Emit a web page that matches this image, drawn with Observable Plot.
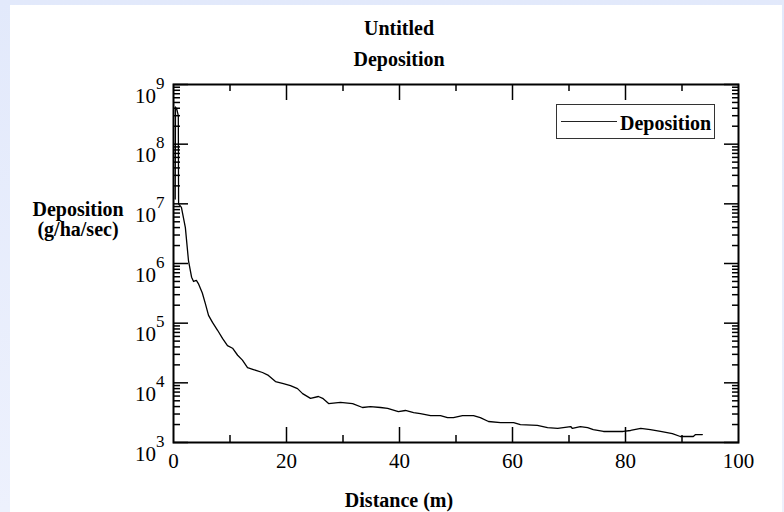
<!DOCTYPE html>
<html><head><meta charset="utf-8">
<script src="https://cdn.jsdelivr.net/npm/d3@7"></script>
<script src="https://cdn.jsdelivr.net/npm/@observablehq/plot@0.6"></script>
<style>
html,body{margin:0;padding:0;}
body{width:784px;height:512px;overflow:hidden;background:linear-gradient(180deg,#e2e9fb 0%,#edf1fd 100%);}
#wrap{position:relative;width:784px;height:512px;}
#panel{position:absolute;left:10px;top:5px;width:772px;height:507px;background:#fff;}
#chart{position:absolute;left:0;top:0;}
.t{position:absolute;font-family:"Liberation Serif","Times New Roman",serif;font-weight:bold;font-size:20px;line-height:20px;color:#000;white-space:nowrap;}
.c{transform:translateX(-50%);}
#legend{position:absolute;left:556px;top:104px;width:157px;height:33px;border:1.5px solid #333;background:#fff;}
#legend .ln{position:absolute;left:4px;top:16px;width:56px;height:0;border-top:1.5px solid #222;}
#legend .t{left:63px;top:8px;}
</style></head>
<body>
<div id="wrap">
  <div id="panel"></div>
  <div id="chart"></div>
  <div class="t c" style="left:399px;top:18px;">Untitled</div>
  <div class="t c" style="left:399px;top:49px;">Deposition</div>
  <div class="t c" style="left:78px;top:199px;">Deposition</div>
  <div class="t c" style="left:78px;top:219px;">(g/ha/sec)</div>
  <div class="t c" style="left:399px;top:490px;">Distance (m)</div>
  <div id="legend"><div class="ln"></div><div class="t">Deposition</div></div>
</div>
<script>
// Series: distance (m) and deposition (g/ha/sec)
const distance = [0.3,0.35,0.6,0.85,0.9,1.4,2.1,2.65,3.2,3.55,4.05,4.4,5.1,5.65,6.2,6.9,7.8,8.7,9.55,10.45,11.35,12.2,13.1,14.15,15.75,16.8,18.05,19.45,20.7,21.95,22.85,24.25,25.65,26.4,27.45,29.55,31.7,33.45,34.85,36.65,37.9,39.8,41.05,42.5,43.7,45.5,47.25,48.5,49.55,51.15,53.1,54.3,55.75,57.9,60.2,61.4,64.4,66.2,68.0,70.3,70.6,72.0,73.3,74.3,76.1,79.6,80.9,82.7,84.4,86.2,88.3,89.7,92.0,92.4,93.6];
const deposition = [1.2e7,4.2e8,3.8e8,3.0e8,1.0e7,8.7e6,4.0e6,1.12e6,5.9e5,5.0e5,5.2e5,4.6e5,3.2e5,2.1e5,1.35e5,1.03e5,7.6e4,5.5e4,4.2e4,3.8e4,2.9e4,2.4e4,1.8e4,1.67e4,1.49e4,1.33e4,1.05e4,9.7e3,9.0e3,8.0e3,6.6e3,5.5e3,5.9e3,5.5e3,4.5e3,4.7e3,4.5e3,3.86e3,4.0e3,3.86e3,3.72e3,3.3e3,3.44e3,3.18e3,3.06e3,2.83e3,2.83e3,2.62e3,2.62e3,2.83e3,2.83e3,2.62e3,2.25e3,2.16e3,2.16e3,2.0e3,1.93e3,1.78e3,1.72e3,1.85e3,1.72e3,1.85e3,1.78e3,1.65e3,1.53e3,1.53e3,1.59e3,1.72e3,1.65e3,1.53e3,1.41e3,1.26e3,1.26e3,1.36e3,1.36e3];

// Tick values
const xTickLabels = [0,20,40,60,80,100];
const xMajorTicks = [20,40,60,80];
const xMinorTicks = [10,30,50,70,90];
const yDecades = [1e3,1e4,1e5,1e6,1e7,1e8,1e9];
const yMinorMultipliers = [2,3,4,5,6,7,8,9];

const yMinorTicks = yDecades.slice(0,-1).flatMap(d => yMinorMultipliers.map(k => k*d));
const data = distance.map((d,i) => ({distance:d, deposition:deposition[i]}));

const tickStyle = {stroke:"black", strokeWidth:1.5, tickFormat:() => "", label:null};
const font = "'Liberation Serif','Times New Roman',serif";

const svg = Plot.plot({
  width:784, height:512,
  marginLeft:173, marginRight:46, marginTop:84, marginBottom:70,
  style:{background:"transparent", fontFamily:font, fontSize:"21px", color:"black", overflow:"visible"},
  x:{domain:[0,100], label:null},
  y:{type:"log", domain:[1e3,1e9], label:null},
  marks:[
    Plot.axisX(xMajorTicks, {anchor:"bottom", tickSize:-15, ...tickStyle}),
    Plot.axisX(xMinorTicks, {anchor:"bottom", tickSize:-7, ...tickStyle}),
    Plot.axisX(xMajorTicks, {anchor:"top", tickSize:-15, ...tickStyle}),
    Plot.axisX(xMinorTicks, {anchor:"top", tickSize:-6, ...tickStyle}),
    Plot.axisY(yDecades, {anchor:"left", tickSize:-15, ...tickStyle}),
    Plot.axisY(yMinorTicks, {anchor:"left", tickSize:-7, ...tickStyle}),
    Plot.axisY(yDecades, {anchor:"right", tickSize:-15, ...tickStyle}),
    Plot.axisY(yMinorTicks, {anchor:"right", tickSize:-7, ...tickStyle}),
    Plot.axisX(xTickLabels, {anchor:"bottom", tickSize:0, tickPadding:11, tickFormat:d => String(d), label:null, fill:"black", fontSize:21, fontFamily:font}),
    Plot.axisY(yDecades, {anchor:"left", tickSize:0, tickPadding:9, tickFormat:d => "10^" + Math.round(Math.log10(d)), label:null, fill:"black", fontSize:21, fontFamily:font}),
    Plot.line(data, {x:"distance", y:"deposition", stroke:"black", strokeWidth:1.3}),
    Plot.frame({stroke:"black", strokeWidth:2})
  ]
});

svg.querySelectorAll('g[aria-label="y-axis tick label"] text').forEach(t => {
  const s = t.textContent;
  if (!s.includes("^")) return;
  const [base, exp] = s.split("^");
  t.textContent = "";
  t.setAttribute("dy", "11.5");
  const b = document.createElementNS("http://www.w3.org/2000/svg","tspan");
  b.textContent = base;
  const e = document.createElementNS("http://www.w3.org/2000/svg","tspan");
  e.setAttribute("dy","-14");
  e.style.fontSize = "17px";
  e.textContent = exp;
  t.appendChild(b); t.appendChild(e);
});
document.getElementById("chart").appendChild(svg);
</script>
</body></html>
